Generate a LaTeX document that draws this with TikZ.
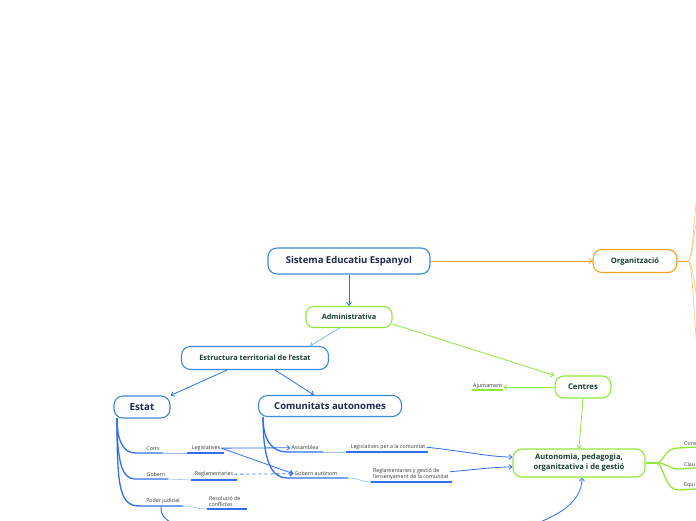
\documentclass[tikz,border=0pt]{standalone}
\usepackage{fontspec}
\setmainfont{Open Sans}
\usetikzlibrary{arrows.meta}
\definecolor{bl}{HTML}{2F6FF0}
\definecolor{bbord}{HTML}{3B8BD9}
\definecolor{lbl}{HTML}{8DB8E8}
\definecolor{thinbl}{HTML}{9CC0F0}
\definecolor{gr}{HTML}{8FE83A}
\definecolor{og}{HTML}{F6A021}
\definecolor{lorg}{HTML}{F8C98A}
\definecolor{navy}{HTML}{1C2B4E}
\definecolor{dgreen}{HTML}{183F33}
\definecolor{txt}{HTML}{333333}
\tikzset{
  mmbox/.style={draw, fill=white, line width=1.1pt, rounded corners=9pt, inner sep=0pt, align=center, font=\bfseries},
  bluebox/.style={mmbox, draw=bbord},
  greenbox/.style={mmbox, draw=gr},
  orangebox/.style={mmbox, draw=og},
  small/.style={font=\fontsize{5.3}{6.5}\selectfont, text=txt, inner sep=1pt, align=left},
  arr/.style={-{Straight Barb[length=3pt,width=5pt]}, line width=0.8pt},
  branch/.style={line width=1.3pt, color=bl},
  thin/.style={line width=0.6pt, color=thinbl},
}
\begin{document}
\begin{tikzpicture}[x=1pt,y=-1pt]
\useasboundingbox[fill=white] (0,0) rectangle (696,520);

% main nodes
\node[bluebox, minimum width=162pt, minimum height=26pt, text=navy, font=\bfseries\fontsize{9.5}{11}\selectfont] (root) at (349,261) {Sistema Educatiu Espanyol};
\node[greenbox, minimum width=86pt, minimum height=21pt, text=dgreen, rounded corners=8pt, font=\bfseries\fontsize{7.3}{9}\selectfont] (adm) at (349,317) {Administrativa};
\node[bluebox, minimum width=147pt, minimum height=23pt, text=dgreen, font=\bfseries\fontsize{7.3}{9}\selectfont] (estr) at (255,358) {Estructura territorial de l'estat};
\node[bluebox, minimum width=56pt, minimum height=22pt, text=navy, font=\bfseries\fontsize{9.8}{11}\selectfont] (estat) at (142,407) {Estat};
\node[bluebox, minimum width=143pt, minimum height=21pt, text=navy, font=\bfseries\fontsize{9.5}{11}\selectfont] (ca) at (330,406) {Comunitats autonomes};
\node[greenbox, minimum width=56pt, minimum height=22pt, text=dgreen, font=\bfseries\fontsize{7.8}{9}\selectfont] (centres) at (583,387) {Centres};
\node[greenbox, minimum width=132pt, minimum height=28pt, text=dgreen, font=\bfseries\fontsize{7.6}{10}\selectfont] (auto) at (579,463) {Autonomia, pedagogia,\\organitzativa i de gestió};
\node[orangebox, minimum width=84pt, minimum height=23pt, text=dgreen, font=\bfseries\fontsize{7.6}{9}\selectfont] (org) at (635,261) {Organització};

% top-level connectors
\draw[arr, color=bl] (root) -- (adm);
\draw[arr, color=og, line width=0.7pt] (root.east) -- (org.west);
\draw[arr, color=lbl] (adm.south west) ++(34,0) coordinate (admA) (admA) -- (estr.north east -| 310,0) coordinate (estrA);
\draw[arr, color=gr] (adm.south east) ++(0,-4) coordinate (admB) (admB) -- (centres.north west);
\draw[arr, color=bl] (estr.south west) ++(46,0) coordinate (estrB) (estrB) -- (estat.north east);
\draw[arr, color=bl] (estr.south east) ++(-54,0) coordinate (estrC) (estrC) -- (ca.north -| 314,0);
\draw[arr, color=gr] (centres.south) -- (auto.north);

% Ajuntament
\node[small, anchor=south west] (ajun) at (472,390) {Ajuntament};
\draw[gr, line width=1.3pt] (ajun.south west) -- (ajun.south east);
\draw[arr, color=gr, line width=0.7pt] (centres.west) -- (ajun.south east |- centres.west);

% orange branches from Organització
\coordinate (orgR) at (688,261);
\draw[og, line width=1pt] (org.east) -- (orgR);
\foreach \yy in {190,215,300,355} {
  \draw[lorg, line width=0.7pt] (orgR) .. controls (694,261) and (694,\yy) .. (700,\yy);
}

% Autonomia right branches
\coordinate (autR) at (656,463);
\draw[gr, line width=1.3pt] (auto.east) -- (autR);
\node[small, anchor=south west] (cons) at (683,447) {Cons};
\node[small, anchor=south west] (clau) at (683,468) {Clau};
\node[small, anchor=south west] (equi) at (683,489) {Equi};
\draw[gr, line width=1.3pt] (autR) .. controls (664,463) and (664,448) .. (678,448) -- (cons.south east);
\draw[gr, line width=1.3pt] (autR) .. controls (668,463) and (668,469) .. (680,469) -- (clau.south east);
\draw[gr, line width=1.3pt] (autR) .. controls (664,463) and (664,490) .. (678,490) -- (equi.south east);

% Estat branches
\coordinate (eT) at (117,418);
\node[small, anchor=south] (corts) at (153,452) {Corts};
\node[small, anchor=south] (legis) at (206,452) {Legislatives};
\node[small, anchor=south] (gob) at (156,478) {Gobern};
\node[small, anchor=south] (regl) at (214,478) {Reglamentaries};
\node[small, anchor=south] (poder) at (163,505) {Poder judicial};
\node[small, anchor=south west] (resol) at (208,508) {Resolució de\\conflictes};
\draw[branch] (eT) .. controls (117,440) and (123,453) .. (135,453) -- (163,453);
\draw[thin] (163,453) -- (187,453);
\draw[branch] (187,453) -- (224,453);
\draw[branch] (eT) .. controls (117,462) and (122,479) .. (135,479) -- (168,479);
\draw[thin] (168,479) .. controls (180,479) and (180,480) .. (191,480);
\draw[branch] (191,480) -- (237,480);
\draw[branch] (eT) .. controls (117,490) and (120,506) .. (140,506) -- (183,506);
\draw[thin] (183,506) .. controls (195,506) and (195,509) .. (207,509);
\draw[branch] (207,509) -- (247,509);
\draw[bl, line width=1pt] (161,507) .. controls (161,515) and (164,518) .. (170,522);

% Comunitats branches
\coordinate (cT) at (263,417);
\node[small, anchor=south] (asam) at (305,451) {Assamblea};
\node[small, anchor=south] (legc) at (388,451) {Legislatives per a la comunitat};
\node[small, anchor=south] (gobc) at (316,477) {Gobern autònom};
\node[small, anchor=south west] (reglc) at (372,481) {Reglamentaries y gestió de\\l'ensenyament de la comunitat};
\draw[branch] (cT) .. controls (263,440) and (272,452) .. (287,452) -- (323,452);
\draw[thin] (323,452) -- (346,452);
\draw[branch] (346,452) -- (428,452);
\draw[branch] (cT) .. controls (263,462) and (272,478) .. (287,478) -- (348,478);
\draw[thin] (348,478) .. controls (360,478) and (360,482) .. (371,482);
\draw[branch] (371,482) -- (452,482);

% cross connectors
\draw[arr, color=bl] (legis.east) -- (asam.west);
\draw[arr, color=bl] (legis.east) -- (gobc.west);
\draw[arr, color=bl, dashed] (regl.east) -- (gobc.west);
\draw[arr, color=bl] (legc.east) .. controls (470,452) and (490,457) .. (auto.west |- 0,457);
\draw[arr, color=bl] (reglc.north east) ++(0,5) coordinate (reglcR) (reglcR) .. controls (480,469) and (495,467) .. (auto.west |- 0,467);
\draw[arr, color=bl] (540,522) .. controls (570,510) and (582,495) .. (auto.south -| 582,0);
\end{tikzpicture}
\end{document}
